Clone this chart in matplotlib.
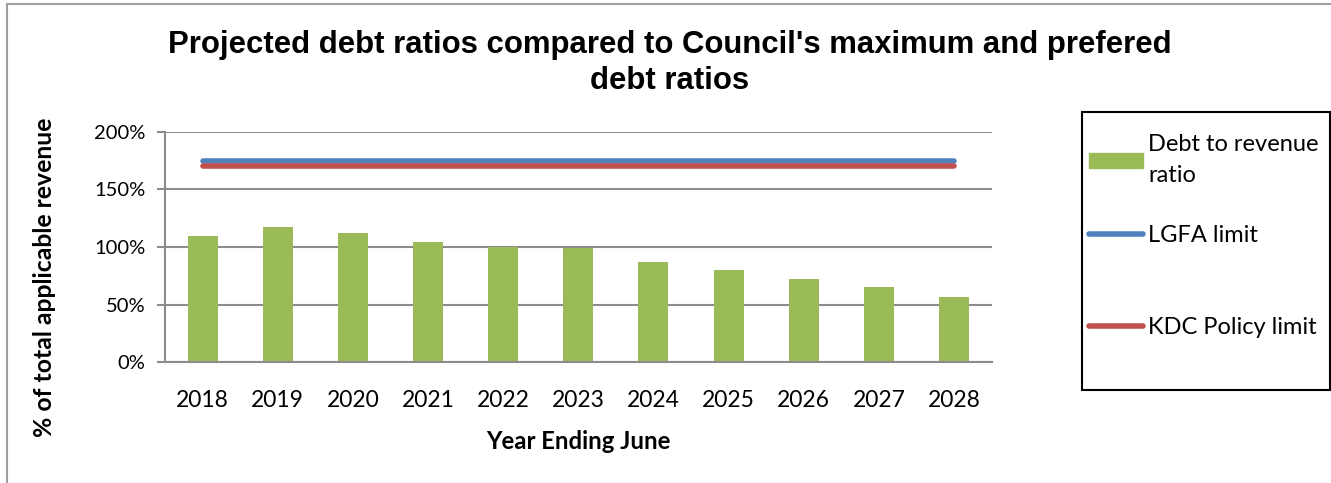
import numpy as np
import matplotlib
matplotlib.use("Agg")
from matplotlib import pyplot as plt
from matplotlib.patches import Rectangle, Patch
from matplotlib.lines import Line2D
from matplotlib.ticker import FuncFormatter

years = ['2018', '2019', '2020', '2021', '2022', '2023', '2024', '2025', '2026', '2027', '2028']
debt_ratio = [110, 117, 112, 104, 100, 99, 87, 80, 72, 65, 57]
lgfa_limit = [175] * len(years)
kdc_limit = [170] * len(years)

green = '#9BBB59'
blue = '#4F81BD'
red = '#C0504D'
grid_col = '#8C8C8C'

plt.rcParams['font.family'] = ['Lato', 'DejaVu Sans']

fig = plt.figure(figsize=(13.31, 4.83), dpi=100)
ax = fig.add_axes([0.124, 0.25, 0.621, 0.477])

x = np.arange(len(years))
ax.bar(x, debt_ratio, width=0.4, color=green, zorder=2)
ax.plot(x, lgfa_limit, color=blue, lw=4, solid_capstyle='round', zorder=3)
ax.plot(x, kdc_limit, color=red, lw=4, solid_capstyle='round', zorder=3)

ax.set_xlim(-0.5, len(years) - 0.5)
ax.set_ylim(0, 200)
ax.set_yticks([0, 50, 100, 150, 200])
ax.yaxis.set_major_formatter(FuncFormatter(lambda v, p: '%d%%' % v))
ax.set_xticks(x)
ax.set_xticklabels(years)
ax.grid(axis='y', color=grid_col, lw=1.5, zorder=0)
ax.tick_params(axis='y', length=6, width=1.5, color=grid_col, labelsize=14.5, pad=8)
ax.tick_params(axis='x', length=0, labelsize=16.5, pad=20)
for s in ['top', 'right']:
    ax.spines[s].set_visible(False)
for s in ['left', 'bottom']:
    ax.spines[s].set_color(grid_col)
    ax.spines[s].set_linewidth(1.5)

ax.set_xlabel('Year Ending June', fontsize=17.2, fontweight='bold', labelpad=14)
ax.set_ylabel('% of total applicable revenue', fontsize=17.8, fontweight='bold')
ax.yaxis.set_label_coords(-0.132, 0.37)

fig.text(0.503, 1 - 63 / 483, "Projected debt ratios compared to Council's maximum and prefered\ndebt ratios",
         ha='center', va='center', fontsize=22.4, fontweight='bold',
         family=['Liberation Sans', 'DejaVu Sans'], linespacing=1.27)

# outer chart frame (only top and left edges visible)
fig.add_artist(Line2D([7 / 1331, 7 / 1331], [0, 1 - 4 / 483], color='#A0A0A0', lw=1.5))
fig.add_artist(Line2D([7 / 1331, 1], [1 - 4 / 483, 1 - 4 / 483], color='#A0A0A0', lw=1.5))

# legend box, one entry at a time so the rows can sit at their own heights
fig.add_artist(Rectangle((1082 / 1331, 1 - 390 / 483), 248 / 1331, 278 / 483,
                         transform=fig.transFigure, fill=False, ec='black', lw=1.5))
entries = [(Patch(color=green), 'Debt to revenue\nratio', 160),
           (Line2D([], [], color=blue, lw=4, solid_capstyle='round'), 'LGFA limit', 235),
           (Line2D([], [], color=red, lw=4, solid_capstyle='round'), 'KDC Policy limit', 327)]
for h, lab, ypix in entries:
    leg = fig.legend([h], [lab], loc='center left', bbox_to_anchor=(1089 / 1331, 1 - ypix / 483),
                     frameon=False, fontsize=17, handlelength=2.3, handleheight=0.6,
                     handletextpad=0.2, borderaxespad=0, borderpad=0)
    leg.get_texts()[0].set_linespacing(1.55)

fig.savefig('out.png', dpi=100)
